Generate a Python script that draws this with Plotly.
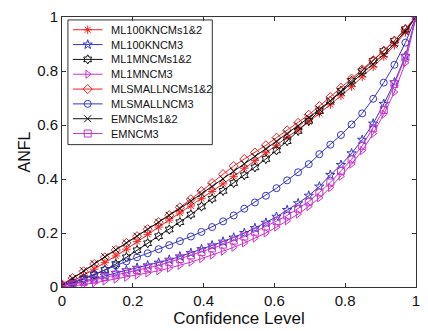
import plotly.graph_objects as go

# Confidence levels (34 evenly spaced points from 0 to 1)
confidence = [0, 0.030, 0.061, 0.091, 0.121, 0.152, 0.182, 0.212, 0.242, 0.273,
              0.303, 0.333, 0.364, 0.394, 0.424, 0.455, 0.485, 0.515, 0.545, 0.576,
              0.606, 0.636, 0.667, 0.697, 0.727, 0.758, 0.788, 0.818, 0.848, 0.879,
              0.909, 0.939, 0.970, 1]

ml100k_ncms12 = [0.005, 0.022, 0.043, 0.066, 0.09, 0.115, 0.14, 0.168, 0.195, 0.222,
                 0.248, 0.274, 0.3, 0.327, 0.354, 0.382, 0.41, 0.44, 0.468, 0.497,
                 0.525, 0.554, 0.583, 0.612, 0.643, 0.675, 0.708, 0.742, 0.778, 0.815,
                 0.853, 0.895, 0.943, 1]
ml100k_ncm3 = [0.005, 0.012, 0.021, 0.031, 0.042, 0.052, 0.062, 0.071, 0.08, 0.09,
               0.101, 0.113, 0.126, 0.14, 0.154, 0.168, 0.183, 0.2, 0.218, 0.238,
               0.26, 0.285, 0.31, 0.338, 0.372, 0.415, 0.452, 0.495, 0.545, 0.605,
               0.678, 0.758, 0.855, 1]
ml1m_ncms12 = [0.005, 0.015, 0.03, 0.045, 0.063, 0.085, 0.11, 0.136, 0.162, 0.188,
               0.213, 0.24, 0.268, 0.298, 0.327, 0.356, 0.385, 0.414, 0.443, 0.474,
               0.506, 0.54, 0.578, 0.615, 0.652, 0.69, 0.727, 0.764, 0.8, 0.838,
               0.874, 0.912, 0.955, 1]
ml1m_ncm3 = [0.0, 0.004, 0.009, 0.015, 0.022, 0.029, 0.036, 0.044, 0.052, 0.06,
             0.07, 0.08, 0.092, 0.105, 0.118, 0.132, 0.147, 0.163, 0.181, 0.2,
             0.222, 0.245, 0.27, 0.298, 0.33, 0.368, 0.41, 0.455, 0.505, 0.568,
             0.64, 0.722, 0.83, 1]
mlsmall_ncms12 = [0.01, 0.033, 0.058, 0.085, 0.11, 0.137, 0.163, 0.188, 0.214, 0.24,
                  0.266, 0.295, 0.325, 0.355, 0.385, 0.418, 0.448, 0.474, 0.498, 0.525,
                  0.553, 0.58, 0.608, 0.638, 0.67, 0.703, 0.738, 0.772, 0.806, 0.84,
                  0.875, 0.912, 0.955, 1]
mlsmall_ncm3 = [0.005, 0.018, 0.032, 0.047, 0.063, 0.08, 0.095, 0.11, 0.125, 0.14,
                0.155, 0.17, 0.187, 0.204, 0.222, 0.243, 0.265, 0.29, 0.313, 0.338,
                0.366, 0.395, 0.425, 0.455, 0.492, 0.527, 0.563, 0.602, 0.643, 0.697,
                0.757, 0.823, 0.905, 1]
em_ncms12 = [0.005, 0.032, 0.06, 0.086, 0.112, 0.138, 0.163, 0.188, 0.214, 0.24,
             0.265, 0.291, 0.318, 0.345, 0.372, 0.4, 0.428, 0.456, 0.484, 0.512,
             0.54, 0.568, 0.597, 0.627, 0.658, 0.69, 0.722, 0.756, 0.79, 0.826,
             0.862, 0.902, 0.948, 1]
em_ncm3 = [0.005, 0.01, 0.018, 0.027, 0.037, 0.046, 0.055, 0.063, 0.071, 0.08,
           0.092, 0.104, 0.117, 0.13, 0.143, 0.157, 0.172, 0.187, 0.205, 0.224,
           0.244, 0.265, 0.29, 0.316, 0.35, 0.387, 0.43, 0.473, 0.523, 0.588,
           0.656, 0.752, 0.85, 1]

RED = "#f02020"
BLUE = "#3535cc"
BLACK = "#111111"
MAGENTA = "#cc33cc"
FONT = "Liberation Sans, Arial"

series = [
    ("ML100KNCMs1&2", ml100k_ncms12, RED, "asterisk-open"),
    ("ML100KNCM3", ml100k_ncm3, BLUE, "star-open"),
    ("ML1MNCMs1&2", ml1m_ncms12, BLACK, "hexagram-open"),
    ("ML1MNCM3", ml1m_ncm3, MAGENTA, "triangle-right-open"),
    ("MLSMALLNCMs1&2", mlsmall_ncms12, RED, "diamond-open"),
    ("MLSMALLNCM3", mlsmall_ncm3, BLUE, "circle-open"),
    ("EMNCMs1&2", em_ncms12, BLACK, "x-thin-open"),
    ("EMNCM3", em_ncm3, MAGENTA, "square-open"),
]

fig = go.Figure()
for name, ys, color, symbol in series:
    fig.add_trace(go.Scatter(
        x=confidence, y=ys, name=name, mode="lines+markers",
        line=dict(color=color, width=1),
        marker=dict(symbol=symbol, size=7, color=color,
                    line=dict(color=color, width=1)),
        showlegend=False,
    ))

# Compact boxed legend drawn on a pixel-scaled overlay (origin at the
# top-left corner of the plotting area, y growing downwards).
PLOT_W, PLOT_H = 358, 275
box_x0, box_x1, box_y0, box_y1 = 6, 152, 3, 130
row0, row_step = 13, 15.1
sample_x0, sample_x1, text_x = 11, 41, 48

fig.add_trace(go.Scatter(
    x=[box_x0, box_x1, box_x1, box_x0, box_x0],
    y=[box_y0, box_y0, box_y1, box_y1, box_y0],
    xaxis="x2", yaxis="y2", mode="lines", fill="toself",
    fillcolor="white", line=dict(color="#333333", width=1),
    showlegend=False, hoverinfo="skip",
))
annotations = []
for i, (name, ys, color, symbol) in enumerate(series):
    ry = row0 + row_step * i
    fig.add_trace(go.Scatter(
        x=[sample_x0, sample_x1], y=[ry, ry], xaxis="x2", yaxis="y2",
        mode="lines", line=dict(color=color, width=1),
        showlegend=False, hoverinfo="skip",
    ))
    fig.add_trace(go.Scatter(
        x=[(sample_x0 + sample_x1) / 2], y=[ry], xaxis="x2", yaxis="y2",
        mode="markers",
        marker=dict(symbol=symbol, size=7, color=color,
                    line=dict(color=color, width=1)),
        showlegend=False, hoverinfo="skip",
    ))
    annotations.append(dict(
        x=text_x, y=ry, xref="x2", yref="y2", text=name, showarrow=False,
        xanchor="left", yanchor="middle",
        font=dict(family=FONT, size=11, color="#111"),
    ))

axis_common = dict(
    range=[0, 1], dtick=0.2, showgrid=False, zeroline=False,
    showline=True, mirror="ticks", linecolor="#333333", linewidth=1,
    ticks="inside", ticklen=4, tickcolor="#333333",
    tickfont=dict(family=FONT, size=15, color="#111"),
)

fig.update_layout(
    width=428, height=331,
    margin=dict(l=62, r=8, t=12, b=44),
    paper_bgcolor="white", plot_bgcolor="white",
    font=dict(family=FONT, color="#111"),
    xaxis=dict(**axis_common,
               title=dict(text="Confidence Level", font=dict(size=17), standoff=2)),
    yaxis=dict(**axis_common,
               title=dict(text="ANFL", font=dict(size=16), standoff=2)),
    xaxis2=dict(overlaying="x", range=[0, PLOT_W], visible=False, fixedrange=True),
    yaxis2=dict(overlaying="y", range=[PLOT_H, 0], visible=False, fixedrange=True),
    annotations=annotations,
    showlegend=False,
)

fig.write_html("out.html")
